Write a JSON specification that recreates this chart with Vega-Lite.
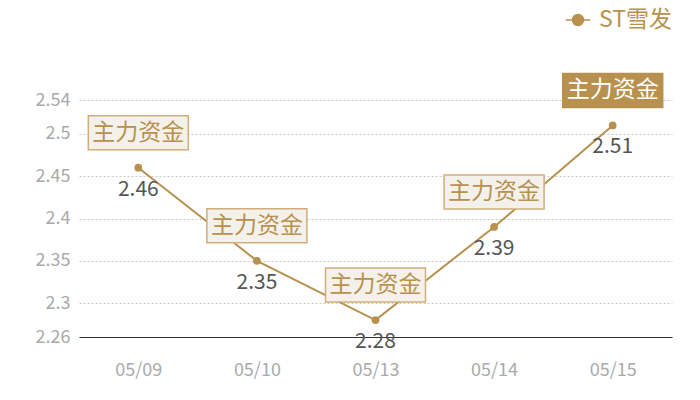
{
  "$schema": "https://vega.github.io/schema/vega-lite/v6.json",
  "width": 593,
  "height": 237,
  "autosize": {"type": "none"},
  "padding": {"left": 79, "top": 100, "right": 28, "bottom": 63},
  "data": {
    "values": [
      {"date": "05/09", "price": 2.46, "name": "ST雪发", "tag": "主力资金"},
      {"date": "05/10", "price": 2.35, "name": "ST雪发", "tag": "主力资金"},
      {"date": "05/13", "price": 2.28, "name": "ST雪发", "tag": "主力资金"},
      {"date": "05/14", "price": 2.39, "name": "ST雪发", "tag": "主力资金"},
      {"date": "05/15", "price": 2.51, "name": "ST雪发", "tag": "主力资金"}
    ]
  },
  "encoding": {
    "x": {
      "field": "date",
      "type": "ordinal",
      "scale": {"type": "point", "padding": 0.5},
      "axis": {
        "title": null,
        "labelAngle": 0,
        "ticks": false,
        "grid": false,
        "domainColor": "#333333",
        "domainWidth": 1.2,
        "labelColor": "#aaaaaa",
        "labelFontSize": 18,
        "labelPadding": 24
      }
    },
    "y": {
      "field": "price",
      "type": "quantitative",
      "scale": {"domain": [2.26, 2.54], "nice": false, "zero": false},
      "axis": {
        "title": null,
        "values": [2.26, 2.3, 2.35, 2.4, 2.45, 2.5, 2.54],
        "format": "~f",
        "domain": false,
        "ticks": false,
        "labelColor": "#aaaaaa",
        "labelFontSize": 18,
        "labelPadding": 9,
        "gridColor": "#c8c8c8",
        "gridDash": [2, 2],
        "gridWidth": 1
      }
    }
  },
  "layer": [
    {
      "mark": {"type": "line", "strokeWidth": 2},
      "encoding": {
        "color": {
          "field": "name",
          "type": "nominal",
          "scale": {"range": ["#b8914e"]},
          "legend": {
            "title": null,
            "orient": "none",
            "legendX": 486,
            "legendY": -93,
            "symbolType": "M-1,0L1,0M-0.45,0A0.45,0.45,0,1,1,0.45,0A0.45,0.45,0,1,1,-0.45,0",
            "symbolSize": 600,
            "symbolStrokeWidth": 1.5,
            "symbolFillColor": "#b8914e",
            "symbolStrokeColor": "#b8914e",
            "labelColor": "#b8914e",
            "labelFontSize": 23,
            "labelFont": "Noto Sans CJK SC",
            "labelOffset": 8
          }
        }
      }
    },
    {
      "mark": {"type": "point", "filled": true, "size": 60, "color": "#b8914e", "opacity": 1}
    },
    {
      "mark": {"type": "rect", "width": 100, "height": 34, "yOffset": -35, "strokeWidth": 1.5},
      "encoding": {
        "fill": {
          "condition": {"test": "datum.date === '05/15'", "value": "#b8914e"},
          "value": "#f4f0ea"
        },
        "stroke": {
          "condition": {"test": "datum.date === '05/15'", "value": "#b8914e"},
          "value": "#cfae7c"
        }
      }
    },
    {
      "mark": {"type": "text", "fontSize": 23, "font": "Noto Sans CJK SC", "dy": -35, "baseline": "middle"},
      "encoding": {
        "text": {"field": "tag"},
        "color": {
          "condition": {"test": "datum.date === '05/15'", "value": "#ffffff"},
          "value": "#b8914e"
        }
      }
    },
    {
      "mark": {"type": "text", "fontSize": 21, "font": "Noto Sans CJK SC", "dy": 22, "baseline": "middle", "color": "#555555"},
      "encoding": {
        "text": {"field": "price", "type": "quantitative", "format": ".2f"}
      }
    }
  ],
  "config": {
    "view": {"stroke": null},
    "font": "Noto Sans CJK SC"
  }
}
